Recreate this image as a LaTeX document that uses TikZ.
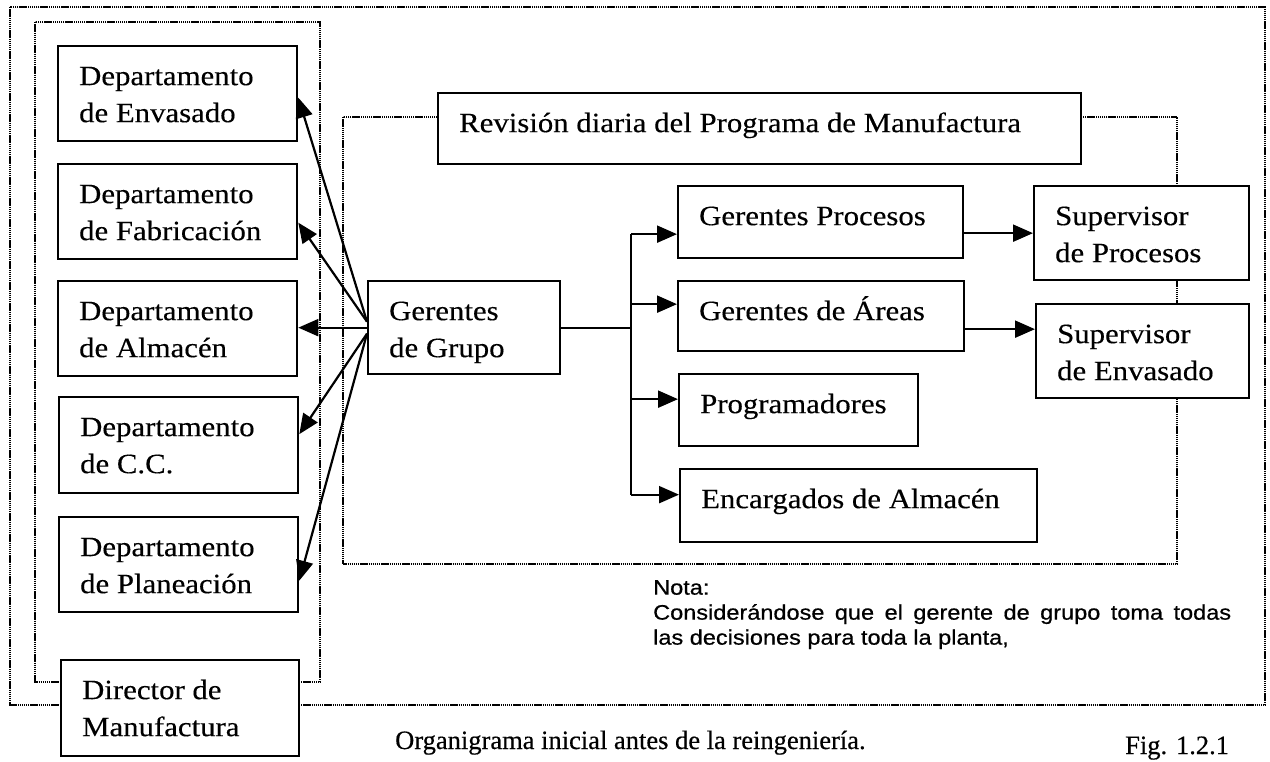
\documentclass[tikz,border=0pt]{standalone}
\usepackage{fontspec}
\setmainfont{Liberation Serif}[FakeStretch=1.1,FakeBold=0.3]
\newfontfamily\notefont{Liberation Sans}[FakeStretch=1.12,FakeBold=0.6]
\newfontfamily\capfont{Liberation Serif}[FakeBold=0.5]
\usetikzlibrary{arrows.meta}
\newcommand\bt[3]{\parbox[c][#2pt][t]{#1pt}{\fontsize{28}{37}\selectfont\raggedright\leftskip=21pt\rule{0pt}{39pt}#3}}
\begin{document}
\begin{tikzpicture}[x=1pt,y=-1pt,
  box/.style={draw, line width=2.3pt, fill=white, inner sep=0pt, anchor=north west},
  frame/.style={line width=2pt, dash pattern=on 1.4pt off 0.7pt},
  link/.style={line width=2.2pt},
  arr/.style={line width=2.2pt, -{Triangle[length=20pt,width=17pt]}}]
\useasboundingbox (0,0) rectangle (1270,761);
\fill[white] (0,0) rectangle (1270,761);
% dotted frames
\draw[frame] (10,7) rectangle (1265,705);
\draw[frame] (35,22) rectangle (320,682);
\draw[frame] (343,117) rectangle (1177,564);
% department boxes
\node[box] (env) at (57,45)  {\bt{239}{95}{Departamento\\de Envasado}};
\node[box] (fab) at (57,163) {\bt{239}{95}{Departamento\\de Fabricación}};
\node[box] (alm) at (57,280) {\bt{239}{95}{Departamento\\de Almacén}};
\node[box] (cc)  at (58,396) {\bt{239}{96}{Departamento\\de C.C.}};
\node[box] (pla) at (58,516) {\bt{239}{95}{Departamento\\de Planeación}};
\node[box] (dir) at (60,659) {\bt{238}{96}{Director de\\Manufactura}};
% central boxes
\node[box] (rev)  at (437,92)  {\bt{643}{71}{Revisión diaria del Programa de Manufactura}};
\node[box] (gg)   at (367,280) {\bt{192}{93}{Gerentes\\de Grupo}};
\node[box] (gpro) at (677,185) {\bt{285}{72}{Gerentes Procesos}};
\node[box] (gare) at (677,280) {\bt{286}{70}{Gerentes de Áreas}};
\node[box] (prog) at (678,373) {\bt{239}{72}{Programadores}};
\node[box] (enc)  at (679,468) {\bt{357}{73}{Encargados de Almacén}};
\node[box] (spro) at (1033,185) {\bt{215}{94}{Supervisor\\de Procesos}};
\node[box] (senv) at (1035,303) {\bt{213}{94}{Supervisor\\de Envasado}};
% arrows to departments
\draw[arr] ([yshift=6pt]gg.west) -- ([yshift=-4pt]env.east);
\draw[arr] ([yshift=6pt]gg.west) -- ([yshift=-11pt]fab.east);
\draw[arr] (gg.west) -- (gg.west -| alm.east);
\draw[arr] ([yshift=-6pt]gg.west) -- ([yshift=11pt]cc.east);
\draw[arr] ([yshift=-6pt]gg.west) -- ([yshift=-16pt]pla.east);
% branch to managers
\coordinate (tx) at (631,327);
\coordinate (b1) at ([yshift=-12pt]gpro.west);
\coordinate (b2) at ([yshift=12pt]gare.west);
\coordinate (b3) at ([yshift=11pt]prog.west);
\coordinate (b4) at ([yshift=11pt]enc.west);
\draw[link] (gg.east) -- (gg.east -| tx);
\draw[link] (tx |- b1) -- (tx |- b4);
\draw[arr] (tx |- b1) -- (b1);
\draw[arr] (tx |- b2) -- (b2);
\draw[arr] (tx |- b3) -- (b3);
\draw[arr] (tx |- b4) -- (b4);
% to supervisors
\draw[arr] (gpro.east |- spro.west) -- (spro.west);
\coordinate (a2) at ([yshift=-13pt]gare.east);
\draw[arr] (a2) -- (senv.west |- a2);
% note and caption
\node[anchor=north west, inner sep=0pt, text width=578pt, align=justify,
  font=\notefont\fontsize{21}{25}\selectfont] (nota) at (653,580)
  {Nota:\\Considerándose que el gerente de grupo toma todas\linebreak las decisiones para toda la planta,};
\node[anchor=base west, inner sep=0pt, font=\capfont\fontsize{26.5}{30}\selectfont] (cap) at (395,749)
  {Organigrama inicial antes de la reingeniería.};
\node[anchor=base west, inner sep=0pt, font=\capfont\fontsize{26.5}{30}\selectfont] (fig) at (1125,754)
  {Fig. 1.2.1};
\end{tikzpicture}
\end{document}
